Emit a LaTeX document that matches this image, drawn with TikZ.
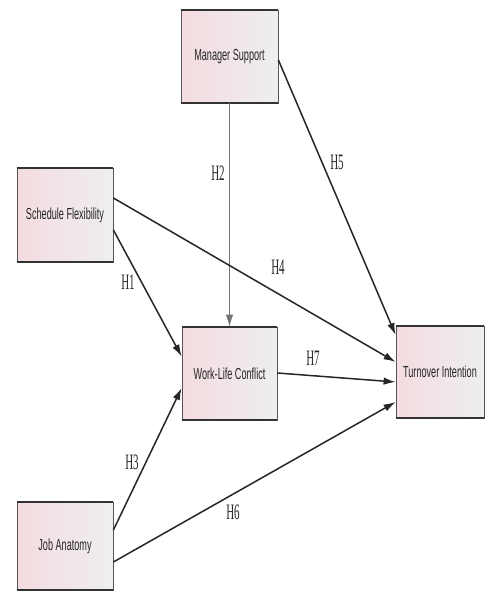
\documentclass[tikz,border=0pt]{standalone}
\usepackage{fontspec}
\setsansfont[FakeStretch=0.57]{Liberation Sans}
\newfontfamily\hlabfont[FakeStretch=0.5]{Liberation Serif}
\usetikzlibrary{arrows.meta}
\definecolor{boxpink}{HTML}{F4DCE0}
\definecolor{boxgray}{HTML}{EEEEF0}
\definecolor{boxline}{HTML}{555555}
\definecolor{edgeline}{HTML}{333333}
\tikzset{
  constr/.style={draw=boxline, line width=0.8pt, left color=boxpink, right color=boxgray,
    font=\sffamily\fontsize{16}{18}\selectfont, text=black!85, inner sep=0pt, align=center},
  rim/.style={draw=edgeline, line width=2pt},
  path/.style={draw=black!85, line width=1.5pt, -{Latex[length=12pt,width=7.5pt]}},
  thinpath/.style={draw=black!55, line width=0.9pt, -{Latex[length=12pt,width=7.5pt]}},
  hlab/.style={font=\hlabfont\fontsize{22}{24}\selectfont, text=black!85, inner sep=1pt}
}
\begin{document}
\begin{tikzpicture}[x=1pt,y=-1pt]
\useasboundingbox[fill=white] (0,0) rectangle (486,594);
\node[constr, minimum width=97pt, minimum height=93pt] (ms) at (229.5,56.5) {Manager Support};
\node[constr, minimum width=96pt, minimum height=94pt] (sf) at (65,215) {Schedule Flexibility};
\node[constr, minimum width=95pt, minimum height=93pt] (wlc) at (229.5,373.5) {Work-Life Conflict};
\node[constr, minimum width=88pt, minimum height=92pt] (ti) at (440,372) {Turnover Intention};
\node[constr, minimum width=96pt, minimum height=88pt] (ja) at (65,546) {Job Anatomy};
\foreach \n in {ms,sf,wlc,ti,ja}{
  \draw[rim] (\n.north west) -- (\n.north east);
  \draw[rim] (\n.south west) -- (\n.south east);
}
% connectors
\draw[thinpath] (ms.south) -- (wlc.north);
\draw[path] ([yshift=-3.5pt]ms.east) -- ([yshift=37pt]ti.west);
\draw[path] ([yshift=17pt]sf.east) -- ([yshift=10pt]ti.west);
\draw[path] ([yshift=-15pt]sf.east) -- ([yshift=17pt]wlc.west);
\draw[path] ([yshift=0.5pt]wlc.east) -- ([yshift=-10pt]ti.west);
\draw[path] ([yshift=16pt]ja.east) -- ([yshift=-14.5pt]wlc.west);
\draw[path] ([yshift=-16pt]ja.east) -- ([yshift=-30pt]ti.west);
% labels
\node[hlab] (h1) at (128,282) {H1};
\node[hlab] (h2) at (218,173) {H2};
\node[hlab] (h3) at (132,462) {H3};
\node[hlab] (h4) at (278,267) {H4};
\node[hlab] (h5) at (337,162) {H5};
\node[hlab] (h6) at (233,512) {H6};
\node[hlab] (h7) at (313,358) {H7};
\end{tikzpicture}
\end{document}
